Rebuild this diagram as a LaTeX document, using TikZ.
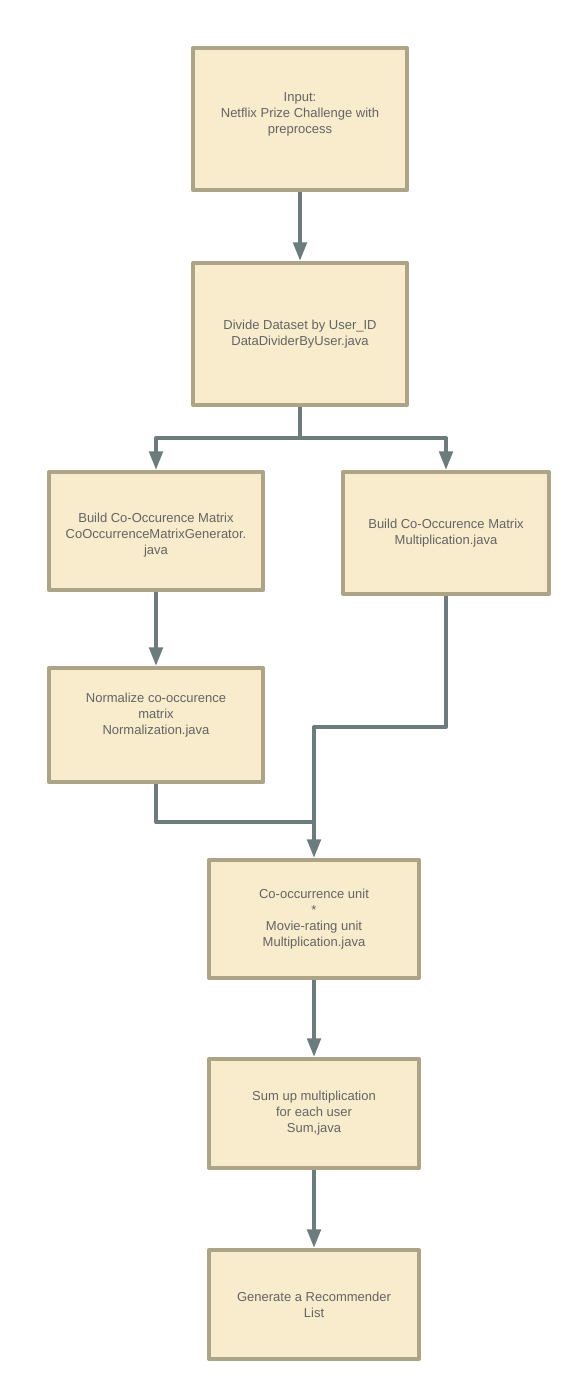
\documentclass[tikz,border=0pt]{standalone}
\usepackage{fontspec}
\setmainfont{Liberation Sans}
\usetikzlibrary{arrows.meta}
\definecolor{boxfill}{RGB}{248,236,204}
\definecolor{boxline}{RGB}{173,163,135}
\definecolor{wire}{RGB}{108,123,123}
\definecolor{txt}{RGB}{100,100,100}
\tikzset{
  stage/.style={draw=boxline, fill=boxfill, line width=3pt, align=center,
    text=txt, font=\fontsize{9.75}{12}\selectfont, inner sep=2pt},
  wireline/.style={draw=wire, line width=3pt},
  flow/.style={wireline, -{Triangle[width=10pt,length=14pt]}}
}
\begin{document}
\begin{tikzpicture}[x=0.75pt,y=-0.75pt,line join=round]
  \useasboundingbox (0,0) rectangle (581,1391);
  \node[stage, minimum width=160.5pt, minimum height=106.5pt, text depth=9.5pt] (input) at (300,119)
    {Input:\\ Netflix Prize Challenge with\\ preprocess};
  \node[stage, minimum width=160.5pt, minimum height=106.5pt] (divide) at (300,334)
    {Divide Dataset by User\_ID\\ DataDividerByUser.java};
  \node[stage, minimum width=160.5pt, minimum height=88.5pt, text height=37pt] (cooc) at (156,531)
    {Build Co-Occurence Matrix\\ CoOccurrenceMatrixGenerator.\\ java};
  \node[stage, minimum width=154.5pt, minimum height=91.5pt] (coocmul) at (446,533)
    {Build Co-Occurence Matrix\\ Multiplication.java};
  \node[stage, minimum width=160.5pt, minimum height=85.5pt, text depth=17pt] (norm) at (156,725)
    {Normalize co-occurence\\ matrix\\ Normalization.java};
  \node[stage, minimum width=157.5pt, minimum height=88.5pt] (unit) at (314,919)
    {Co-occurrence unit\\ *\\ Movie-rating unit\\ Multiplication.java};
  \node[stage, minimum width=157.5pt, minimum height=81.75pt] (sum) at (314,1113.5)
    {Sum up multiplication\\ for each user\\ Sum,java};
  \node[stage, minimum width=157.5pt, minimum height=81.75pt] (rec) at (314,1304.5)
    {Generate a Recommender\\ List};
  \coordinate (split) at (300,438);
  \coordinate (rturn) at (446,727);
  \coordinate (join) at (314,822);
  \draw[flow] (input) -- (divide);
  \draw[wireline] (divide) -- (split);
  \draw[flow] (split) -| (cooc);
  \draw[flow] (split) -| (coocmul);
  \draw[flow] (cooc) -- (norm);
  \draw[flow] (coocmul) -- (rturn) -| (unit);
  \draw[wireline] (norm) |- (join);
  \draw[flow] (unit) -- (sum);
  \draw[flow] (sum) -- (rec);
\end{tikzpicture}
\end{document}
